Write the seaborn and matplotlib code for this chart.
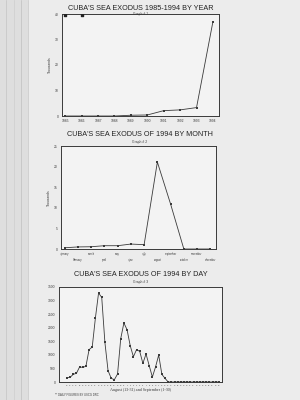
import matplotlib
matplotlib.use("Agg")
import matplotlib.pyplot as plt
import seaborn as sns
import pandas as pd
import numpy as np
from matplotlib.lines import Line2D
from matplotlib.patches import Rectangle

# ---------------- data ----------------
years = [1985, 1986, 1987, 1988, 1989, 1990, 1991, 1992, 1993, 1994]
year_thousands = [0.0, 0.0, 0.0, 0.0, 0.3, 0.4, 2.1, 2.4, 3.3, 37.0]
stray_years = [1985, 1986]
stray_values = [39.5, 39.5]

months = ["january", "february", "march", "april", "may", "june", "july",
          "august", "september", "october", "november", "december"]
month_thousands = [0.3, 0.5, 0.55, 0.8, 0.8, 1.2, 1.05, 21.1, 10.9, 0.0, 0.0, 0.0]

day_labels = [str(d) for d in range(13, 32)] + [str(d) for d in range(1, 31)]
day_values = [160, 172, 282, 319, 553, 540, 577, 1191, 1290, 2358, 3279, 3119,
              1461, 417, 135, 86, 295, 1596, 2174, 1928, 1339, 933, 1191, 1130,
              688, 1032, 602, 184, 553, 995, 282, 135,
              0, 0, 0, 0, 0, 0, 0, 0, 0, 0, 0, 0, 0, 0, 0, 0, 0]

# ---------------- style ----------------
sns.set_style("white")
plt.rcParams['font.family'] = ['Liberation Sans', 'DejaVu Sans']

paper = "#ececec"
ink = "#3a3a3a"
fig = plt.figure(figsize=(3, 4), dpi=100, facecolor=paper)

# scanned-page left strip
fig.add_artist(Rectangle((0, 0), 0.095, 1, transform=fig.transFigure,
                         facecolor="#dedede", edgecolor="none", zorder=0))
for xx, c in [(0.02, "#c8c8c8"), (0.045, "#d0d0d0"), (0.07, "#c4c4c4"), (0.093, "#cfcfcf")]:
    fig.add_artist(Line2D([xx, xx], [0, 1], transform=fig.transFigure,
                          color=c, lw=0.6, zorder=0))


def px(l, t, r, b):
    return [l / 300, 1 - b / 400, (r - l) / 300, (b - t) / 400]


def style_ax(ax):
    ax.set_facecolor("#f3f3f3")
    for s in ax.spines.values():
        s.set_color(ink)
        s.set_linewidth(0.7)
    ax.tick_params(axis="both", length=1.2, width=0.4, pad=1.2, colors=ink,
                   labelsize=2.4, direction="out")
    ax.grid(False)


# ---------------- chart 1 ----------------
ax1 = fig.add_axes(px(62, 14, 219, 116))
df1 = pd.DataFrame({"year": years, "thousands": year_thousands})
sns.lineplot(data=df1, x="year", y="thousands", ax=ax1, color=ink, lw=0.6,
             marker="s", markersize=1.6, markeredgewidth=0, markerfacecolor=ink)
ax1.scatter(stray_years, stray_values, marker="s", s=3, color="#222222", zorder=5)
style_ax(ax1)
ax1.set_xlim(1985 - 0.2, 1994 + 0.37)
ax1.set_ylim(0, 40)
ax1.set_yticks([0, 10, 20, 30, 40])
ax1.set_xticks(years)
ax1.set_xticklabels([str(y) for y in years])
ax1.set_xlabel("")
ax1.set_ylabel("Thousands", fontsize=2.4, labelpad=2, color=ink)
fig.text(141 / 300, 1 - 8 / 400, "CUBA'S SEA EXODUS 1985-1994 BY YEAR",
         ha="center", va="center", fontsize=5.2, color="#222222")
fig.text(141 / 300, 1 - 13.5 / 400, "Graph # 1", ha="center", va="center",
         fontsize=2.4, color=ink)

# ---------------- chart 2 ----------------
ax2 = fig.add_axes(px(61, 146, 216, 249))
df2 = pd.DataFrame({"month": months, "thousands": month_thousands})
df2["pos"] = range(len(months))
sns.lineplot(data=df2, x="pos", y="thousands", ax=ax2, color=ink, lw=0.6,
             marker="s", markersize=1.6, markeredgewidth=0, markerfacecolor=ink)
style_ax(ax2)
ax2.set_xlim(-0.28, 11.43)
ax2.set_ylim(0, 25)
ax2.set_yticks([0, 5, 10, 15, 20, 25])
ax2.set_xticks(df2["pos"])
ax2.set_xticklabels([m if i % 2 == 0 else "\n" + m for i, m in enumerate(months)],
                    linespacing=1.6, fontsize=1.9)
ax2.set_xlabel("")
ax2.set_ylabel("Thousands", fontsize=2.4, labelpad=2, color=ink)
fig.text(140 / 300, 1 - 135 / 400, "CUBA'S SEA EXODUS OF 1994 BY MONTH",
         ha="center", va="center", fontsize=5.2, color="#222222")
fig.text(140 / 300, 1 - 142 / 400, "Graph # 2", ha="center", va="center",
         fontsize=2.4, color=ink)

# ---------------- chart 3 ----------------
ax3 = fig.add_axes(px(59, 287, 222, 382))
df3 = pd.DataFrame({"day": day_labels, "rafters": day_values})
df3["pos"] = range(len(day_labels))
sns.lineplot(data=df3, x="pos", y="rafters", ax=ax3, color=ink, lw=0.6,
             marker="s", markersize=1.5, markeredgewidth=0, markerfacecolor=ink)
style_ax(ax3)
ax3.set_xlim(-2.5, 49)
ax3.set_ylim(0, 3500)
ax3.set_yticks(range(0, 3501, 500))
ax3.set_xticks(df3["pos"])
ax3.set_xticklabels(day_labels, fontsize=1.5)
ax3.set_xlabel("August (13-31) and September (1-30)", fontsize=3.0,
               family=["Liberation Serif", "DejaVu Serif"], labelpad=1.5, color=ink)
ax3.set_ylabel("")
fig.text(141 / 300, 1 - 275 / 400, "CUBA'S SEA EXODUS OF 1994 BY DAY",
         ha="center", va="center", fontsize=5.2, color="#222222")
fig.text(141 / 300, 1 - 282 / 400, "Graph # 3", ha="center", va="center",
         fontsize=2.4, color=ink)
fig.text(55 / 300, 1 - 395 / 400, "** DAILY FIGURES BY USCG DRC",
         ha="left", va="center", fontsize=2.0, color=ink)

fig.savefig("out.png", dpi=100, facecolor=paper)
